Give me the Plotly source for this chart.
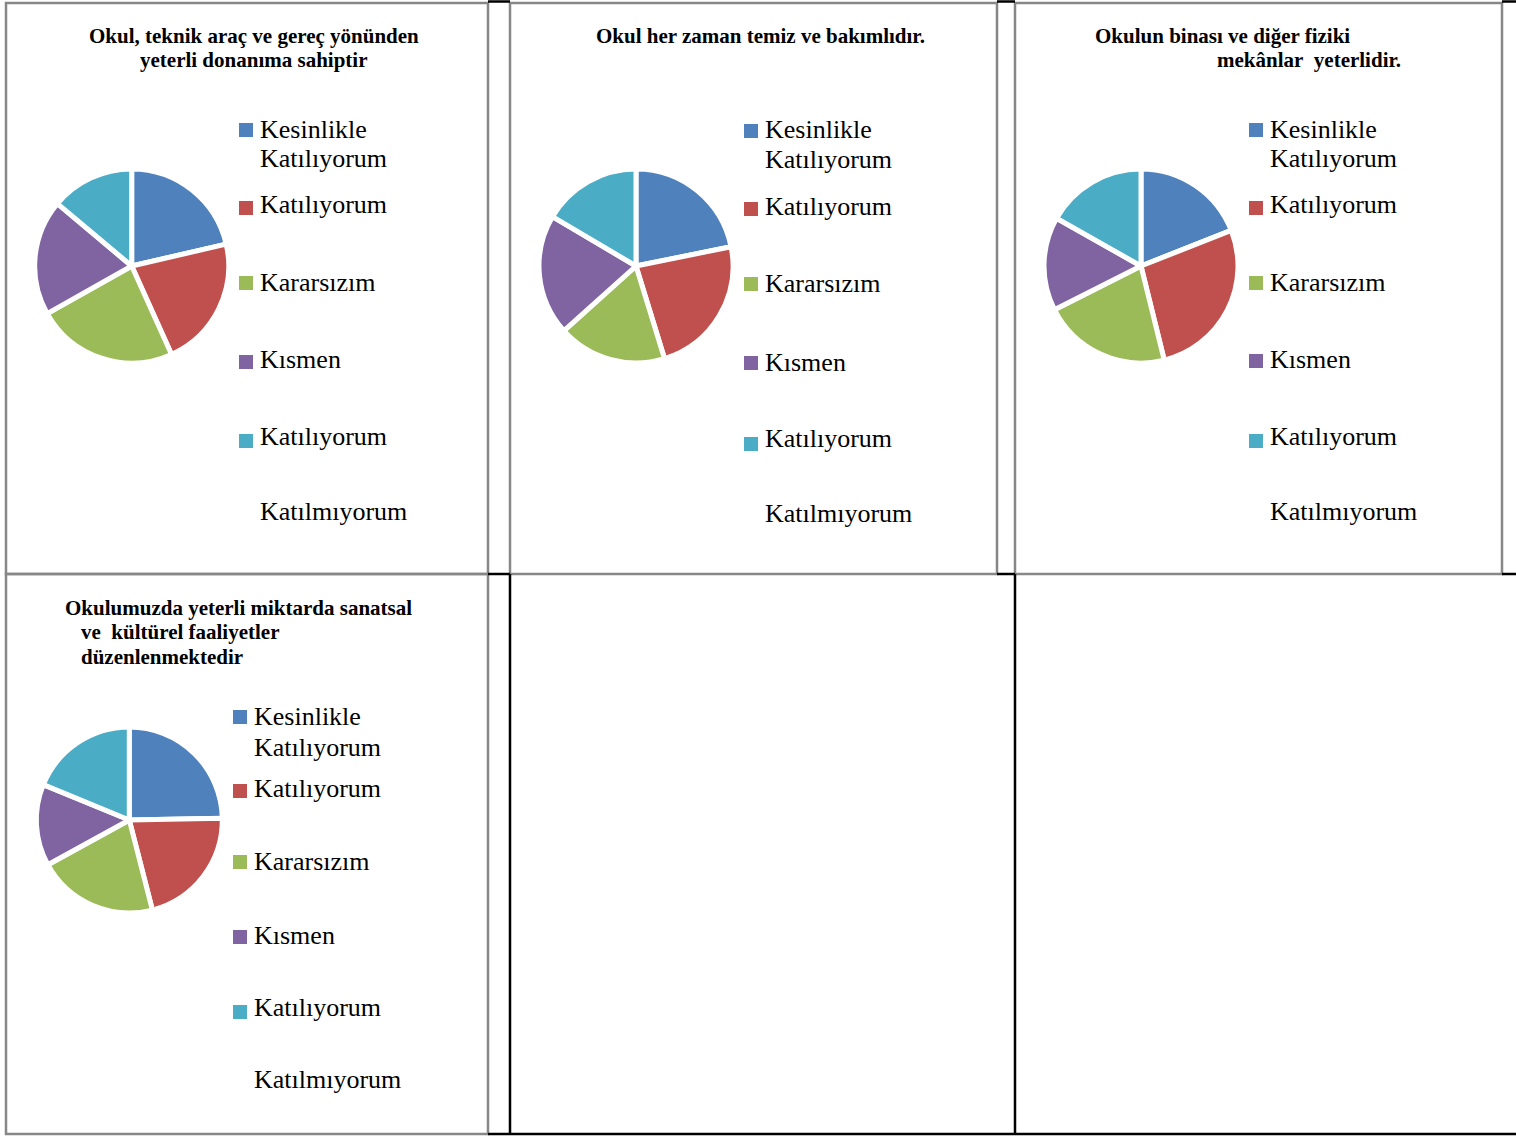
import plotly.graph_objects as go

# ---------------- data ----------------
categories = ["Kesinlikle Katılıyorum", "Katılıyorum", "Kararsızım",
              "Kısmen Katılıyorum", "Katılmıyorum"]
colors = ["#4F81BD", "#C0504D", "#9BBB59", "#8064A2", "#4BACC6"]

q1_values = [21.4, 21.9, 23.6, 19.3, 13.9]
q2_values = [21.8, 23.4, 18.1, 20.1, 16.5]
q3_values = [19.0, 27.1, 21.4, 15.6, 16.8]
q4_values = [24.7, 21.3, 21.0, 14.2, 18.8]

titles = [
    ["Okul, teknik araç ve gereç yönünden", "yeterli donanıma sahiptir"],
    ["Okul her zaman temiz ve bakımlıdır."],
    ["Okulun binası ve diğer fiziki", "mekânlar\u00a0 yeterlidir."],
    ["Okulumuzda yeterli miktarda sanatsal", "ve\u00a0 kültürel faaliyetler", "düzenlenmektedir"],
]

# legend text lines as they appear in the original (wrapped) legend
legend_lines = ["Kesinlikle", "Katılıyorum", "Katılıyorum", "Kararsızım",
                "Kısmen", "Katılıyorum", "Katılmıyorum"]

# ---------------- layout helpers ----------------
W, H = 1516, 1138


def px(x):
    return x / W


def py(y):
    return 1 - y / H


panels = [
    dict(values=q1_values, cx=131.7, cy=266, r=97,
         title_pos=[(254, 36, "center"), (254, 60, "center")],
         mx=239, tx=260,
         text_ys=[129, 158, 204, 282, 360, 436, 512],
         marker_ys=[130, 208, 283, 362, 441]),
    dict(values=q2_values, cx=636, cy=266, r=97,
         title_pos=[(761, 36, "center")],
         mx=744, tx=765,
         text_ys=[130, 160, 206, 283, 362, 438, 513],
         marker_ys=[131, 209, 284, 363, 444]),
    dict(values=q3_values, cx=1141, cy=266, r=97,
         title_pos=[(1093, 36, "left"), (1215, 60, "left")],
         mx=1249, tx=1270,
         text_ys=[129, 158, 204, 282, 360, 436, 512],
         marker_ys=[130, 208, 283, 361, 441]),
    dict(values=q4_values, cx=129.3, cy=820, r=93,
         title_pos=[(63, 608, "left"), (79, 632, "left"), (79, 657, "left")],
         mx=233, tx=254,
         text_ys=[716, 747, 788, 861, 936, 1007, 1079],
         marker_ys=[717, 791, 862, 937, 1012]),
]

fig = go.Figure()
annotations = []
shapes = []

TITLE_FONT = dict(family="Liberation Serif, Times New Roman, serif", size=21, color="#000000")
LEG_FONT = dict(family="Liberation Serif, Times New Roman, serif", size=26, color="#000000")

for i, p in enumerate(panels):
    fig.add_trace(go.Pie(
        labels=categories,
        values=p["values"],
        sort=False,
        direction="clockwise",
        rotation=0,
        textinfo="none",
        showlegend=False,
        marker=dict(colors=colors, line=dict(color="#FFFFFF", width=5)),
        domain=dict(x=[px(p["cx"] - p["r"]), px(p["cx"] + p["r"])],
                    y=[py(p["cy"] + p["r"]), py(p["cy"] - p["r"])]),
    ))
    for line, (x, y, anchor) in zip(titles[i], p["title_pos"]):
        annotations.append(dict(
            text="<b>" + line + "</b>", x=px(x), y=py(y), xref="paper", yref="paper",
            xanchor=anchor, yanchor="middle", showarrow=False, font=TITLE_FONT))
    for line, y in zip(legend_lines, p["text_ys"]):
        annotations.append(dict(
            text=line, x=px(p["tx"] - 2), y=py(y), xref="paper", yref="paper",
            xanchor="left", yanchor="middle", showarrow=False, font=LEG_FONT))
    for c, y in zip(colors, p["marker_ys"]):
        shapes.append(dict(type="rect", xref="paper", yref="paper",
                           x0=px(p["mx"]), x1=px(p["mx"] + 14),
                           y0=py(y + 7), y1=py(y - 7),
                           fillcolor=c, line=dict(width=0)))

GRAY = "#878787"
# chart-area borders (gray)
for (x0, y0, x1, y1) in [(6, 3, 488, 574), (510, 3, 997, 574),
                         (1015, 3, 1502, 574), (6, 574, 488, 1134)]:
    shapes.append(dict(type="rect", xref="paper", yref="paper",
                       x0=px(x0), x1=px(x1), y0=py(y1), y1=py(y0),
                       line=dict(color=GRAY, width=2.5), fillcolor="rgba(0,0,0,0)"))

# table lines (black)
black_segments = [
    (488, 1.5, 510, 1.5), (997, 1.5, 1015, 1.5), (1502, 1.5, 1516, 1.5),
    (488, 574, 510, 574), (997, 574, 1015, 574), (1502, 574, 1516, 574),
    (510, 574, 510, 1134), (1015, 574, 1015, 1134),
    (488, 1134, 1516, 1134),
]
for (x0, y0, x1, y1) in black_segments:
    shapes.append(dict(type="line", xref="paper", yref="paper",
                       x0=px(x0), x1=px(x1), y0=py(y0), y1=py(y1),
                       line=dict(color="#000000", width=2.5)))

fig.update_layout(
    width=W, height=H,
    margin=dict(l=0, r=0, t=0, b=0),
    paper_bgcolor="#FFFFFF",
    plot_bgcolor="#FFFFFF",
    showlegend=False,
    annotations=annotations,
    shapes=shapes,
)

fig.write_html(
    "out.html",
    config={"displayModeBar": False},
    post_script="document.body.style.margin='0';document.body.style.overflow='hidden';",
)
